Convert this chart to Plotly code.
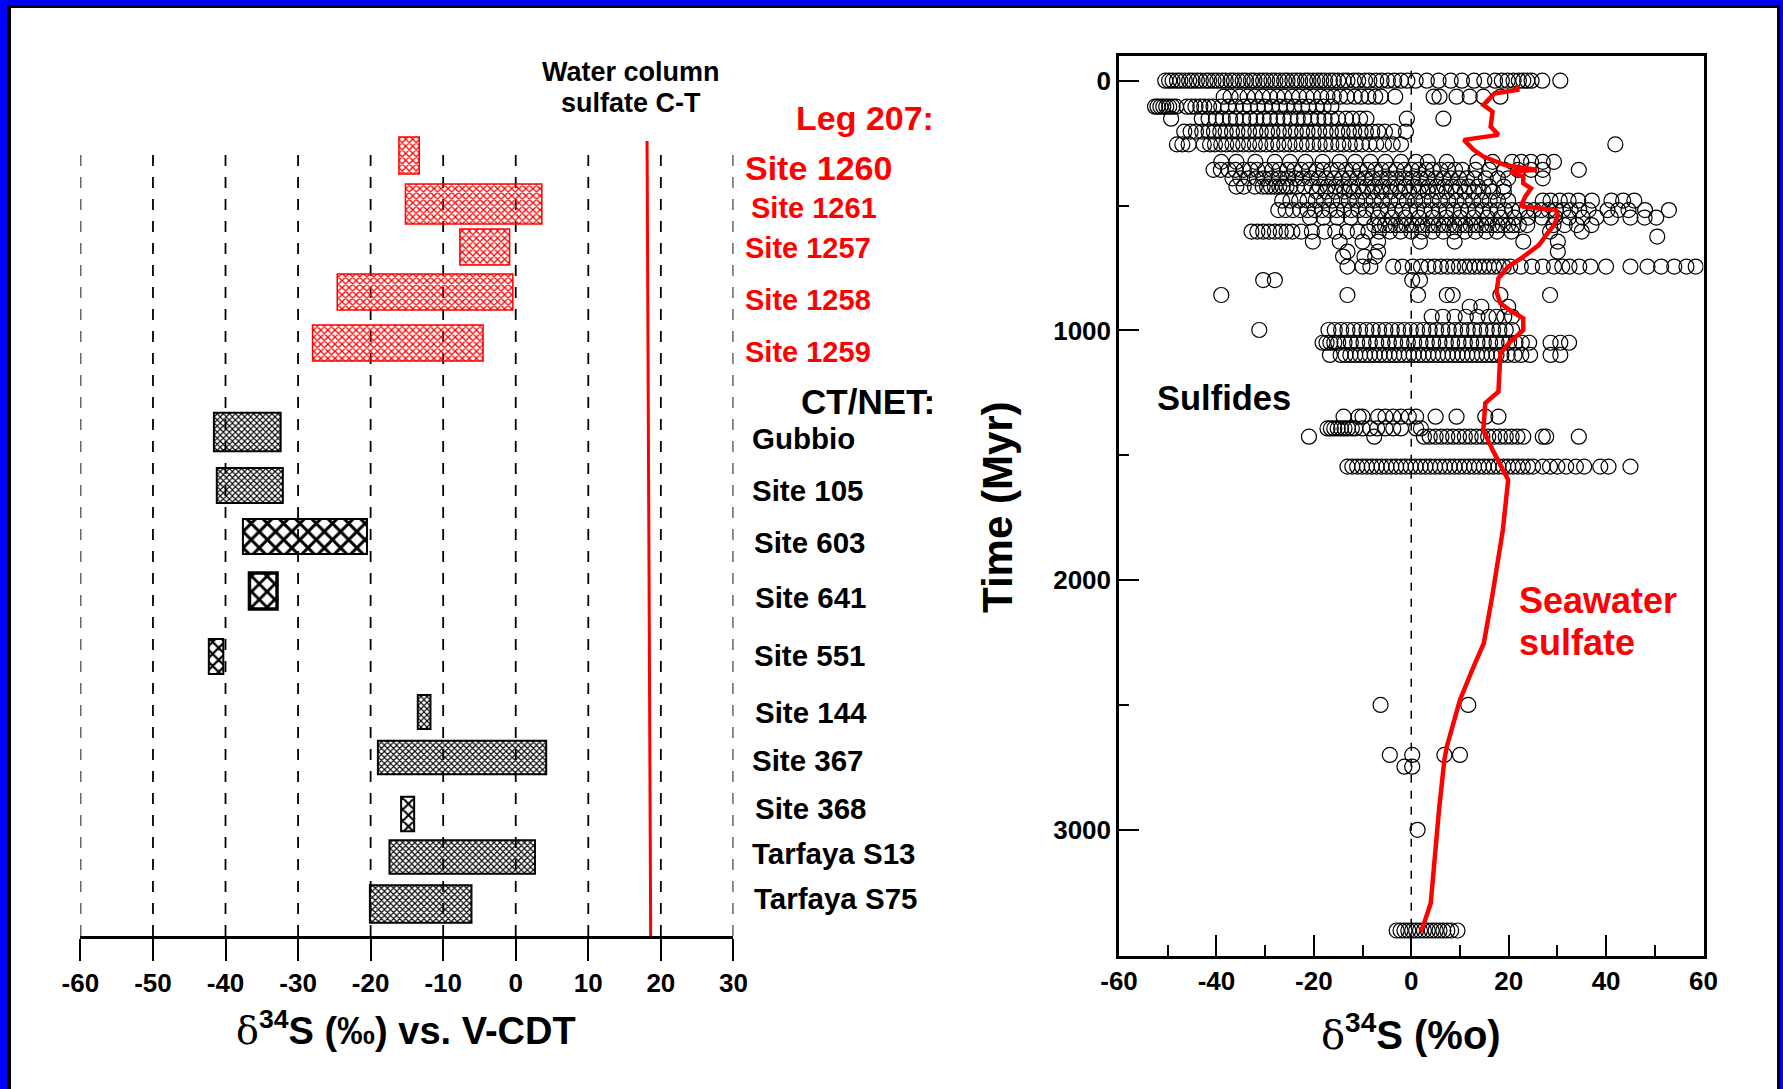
import plotly.graph_objects as go

W, H = 1783, 1089
FONT = "Liberation Sans, Arial, sans-serif"

# ------------------------------------------------------------------ LEFT PANEL DATA
sites = ["Site 1260", "Site 1261", "Site 1257", "Site 1258", "Site 1259",
         "Gubbio", "Site 105", "Site 603", "Site 641", "Site 551",
         "Site 144", "Site 367", "Site 368", "Tarfaya S13", "Tarfaya S75"]
site_group = ["Leg 207"] * 5 + ["CT/NET"] * 10
d34s_min = [-16.1, -15.2, -7.7, -24.6, -28.0,
            -41.6, -41.2, -37.6, -36.7, -42.3,
            -13.5, -19.0, -15.8, -17.4, -20.1]
d34s_max = [-13.3, 3.6, -0.85, -0.4, -4.5,
            -32.4, -32.1, -20.5, -32.9, -40.3,
            -11.75, 4.2, -14.0, 2.65, -6.1]
# vertical slot of each site in the left panel (row units, top = 0)
site_row = [0.00, 0.97, 1.83, 2.73, 3.75,
            5.53, 6.60, 7.62, 8.71, 10.02,
            11.13, 12.04, 13.17, 14.03, 14.97]
water_column_sulfate = [18.1, 18.6]   # slightly slanted line in the source
left_ticks = [-60, -50, -40, -30, -20, -10, 0, 10, 20, 30]
left_tick_labels = ["-60", "-50", "-40", "-30", "-20", "-10", "0", "10", "20", "30"]

# ------------------------------------------------------------------ RIGHT PANEL DATA
seawater_age = [17, 37, 51, 97, 124, 184, 217, 237, 277, 304, 337, 357, 364, 384, 411, 431,
                464, 498, 504, 518, 538, 578, 618, 658, 705, 745, 791, 845, 891, 925, 951,
                998, 1045, 1091, 1245, 1291, 1398, 1478, 1598, 1799, 2066, 2252, 2346, 2479,
                2666, 2719, 2920, 3293, 3387, 3407]
seawater_d34s = [21.8, 21.8, 17.1, 14.8, 16.7, 16.3, 17.9, 10.8, 12.8, 14.8, 19.1, 25.8, 20.3,
                 23.0, 23.0, 24.6, 23.4, 22.6, 23.0, 29.7, 30.1, 29.3, 27.7, 26.2, 23.0, 19.9,
                 17.9, 17.5, 18.3, 20.7, 23.0, 23.0, 20.3, 18.3, 17.9, 15.2, 14.8, 16.7, 19.9,
                 18.8, 16.6, 14.9, 12.8, 10.0, 7.3, 6.8, 5.7, 4.0, 2.4, 1.9]

sulf_000 = [-50.5, -49.7, -49.0, -48.1, -47.4, -46.5, -45.6, -44.9, -44.0, -43.2, -42.2, -41.5,
            -40.6, -39.8, -38.9, -38.1, -37.1, -36.4, -35.5, -34.6, -33.9, -32.9, -32.2, -31.2,
            -30.4, -29.6, -28.7, -27.9, -27.0, -26.1, -25.4, -24.4, -23.6, -22.8, -21.8, -21.1,
            -20.2, -19.3, -18.5, -17.7, -16.7, -15.9, -15.0, -13.9, -13.1, -11.8, -10.9, -9.5,
            -8.6, -7.2, -6.1, -4.8, -3.5, -2.1, -0.8, 0.9, 3.2, 5.6, 8.1, 10.4, 12.9, 15.0,
            17.2, 18.6, 19.8, 21.0, 22.1, 23.0, 23.8, 24.7, 26.9, 30.6]
sulf_064 = [-38.5, -37.1, -35.3, -33.6, -32.1, -30.5, -29.0, -27.5, -26.1, -24.4, -23.0, -21.5,
            -20.1, -18.5, -17.2, -15.9, -14.6, -13.2, -11.6, -10.3, -8.8, -7.4, -6.2, -3.3,
            4.6, 5.8, 9.3, 12.0, 14.8, 18.3]
sulf_104 = [-52.6, -52.1, -51.5, -50.9, -50.3, -49.7, -49.0, -48.3, -46.1, -45.2, -44.3, -43.3,
            -42.5, -41.5, -40.6, -39.0, -37.6, -36.0, -34.4, -33.1, -31.5, -30.1, -28.6, -27.0,
            -25.6, -24.0, -22.4, -21.1, -19.4, -18.0, -16.4]
sulf_152 = [-49.3, -43.0, -41.6, -40.1, -38.7, -37.2, -36.0, -34.5, -33.1, -31.8, -30.3, -29.0,
            -27.5, -26.2, -24.8, -23.3, -22.0, -20.6, -19.1, -17.8, -16.4, -15.0, -13.4, -12.1,
            -10.5, -9.2, -0.9, 6.6]
sulf_204 = [-46.6, -45.3, -44.2, -42.9, -41.6, -40.5, -39.2, -38.1, -36.8, -35.7, -34.4, -33.3,
            -32.0, -30.9, -29.6, -28.5, -27.2, -26.1, -24.8, -23.7, -22.4, -21.3, -20.0, -18.9,
            -17.6, -16.5, -15.2, -14.1, -12.8, -11.7, -10.4, -9.3, -8.0, -6.8, -5.4, -3.6, -1.1]
sulf_255 = [-48.1, -47.0, -45.7, -42.6, -41.3, -40.3, -39.0, -38.0, -36.7, -35.6, -34.5, -33.3,
            -32.1, -31.0, -29.8, -28.5, -27.3, -26.1, -25.0, -23.8, -22.5, -21.4, -20.1, -18.8,
            -17.6, -16.4, -15.0, -13.9, -12.6, -11.4, -10.1, -8.6, -7.2, -5.6, -3.8, -2.1, 41.9]
sulf_325 = [-39.0, -35.9, -32.0, -28.0, -24.9, -21.7, -18.2, -14.7, -11.5, -8.4, -5.3, -2.1,
            1.0, 3.4, 7.3, 13.6, 16.7, 20.7, 22.6, 24.6, 27.0, 29.3]
sulf_357 = [-40.6, -39.1, -37.5, -36.1, -34.4, -33.0, -31.6, -29.9, -28.5, -27.1, -25.4, -24.0,
            -22.6, -21.0, -19.4, -18.1, -16.5, -15.1, -13.4, -12.0, -10.6, -9.0, -7.4, -6.1,
            -4.5, -3.0, -1.4, 0.1, 1.5, 3.1, 4.4, 6.0, 7.6, 9.0, 10.5, 13.2, 16.0, 19.1, 21.9,
            24.6, 27.0, 34.4]
sulf_391 = [-36.7, -35.1, -33.4, -31.7, -30.2, -28.6, -27.1, -25.4, -23.8, -22.3, -20.6, -19.0,
            -17.5, -15.8, -14.2, -12.7, -11.0, -9.4, -7.9, -6.2, -4.6, -3.1, -1.4, 0.2, 1.8,
            3.3, 5.0, 6.6, 8.1, 9.8, 11.4, 13.0, 15.3, 17.8, 19.9, 27.0]
sulf_424 = [-35.9, -34.4, -32.1, -30.5, -29.6, -28.8, -28.0, -27.1, -26.4, -25.6, -24.8, -23.5,
            -22.0, -20.4, -18.8, -17.2, -15.6, -14.0, -12.4, -10.8, -9.2, -7.6, -6.0, -4.4,
            -2.8, -1.2, 0.4, 2.0, 3.6, 5.2, 6.8, 8.4, 10.0, 11.7, 13.7, 16.0, 19.0]
sulf_444 = [-19.4, -17.5, -15.6, -13.7, -11.8, -9.9, -8.0, -6.1, -4.2, -2.3, -0.4, 1.5, 3.4,
            5.3, 7.2, 9.1, 11.0, 12.9, 14.8, 16.8, 19.0]
sulf_480 = [-26.5, -24.8, -23.0, -21.3, -19.6, -17.9, -16.2, -14.5, -12.8, -11.1, -9.4, -7.7,
            -6.0, -4.3, -2.6, -0.9, 0.8, 2.5, 4.2, 5.9, 7.6, 9.3, 11.0, 12.7, 14.4, 16.1, 17.8,
            19.9, 27.0, 28.6, 30.5, 32.3, 34.3, 37.1, 41.1, 43.5, 45.8]
sulf_518 = [-27.3, -25.8, -24.3, -22.8, -21.3, -19.8, -18.3, -16.8, -15.3, -13.8, -12.3, -10.8,
            -9.3, -7.8, -6.3, -4.8, -3.3, -1.8, -0.3, 1.2, 2.7, 4.2, 5.7, 7.2, 8.7, 10.2, 11.7,
            13.2, 14.7, 16.2, 17.7, 19.2, 20.7, 22.2, 23.7, 25.2, 26.7, 28.2, 29.7, 31.2, 32.7,
            34.5, 36.4, 40.3, 42.5, 44.6, 48.0, 52.9]
sulf_548 = [-20.8, -18.0, -15.2, -12.4, -9.6, -6.8, -4.0, -1.2, 1.6, 4.4, 7.2, 10.0, 12.8, 15.6,
            18.4, 21.2, 24.0, 26.8, 29.6, 32.4, 35.2, 38.0, 41.0, 45.0, 47.9, 50.3]
sulf_578 = [-7.6, -6.5, -5.4, -4.3, -3.2, -2.1, -1.0, 0.1, 1.2, 2.3, 3.4, 4.5, 5.6, 6.7, 7.8,
            8.9, 10.0, 11.1, 12.2, 13.3, 14.4, 15.5, 16.6, 17.7, 18.8, 19.9, 21.0, 22.1, 23.8,
            29.2, 31.5, 34.0, 37.0]
sulf_604 = [-32.8, -31.6, -30.4, -29.2, -28.0, -26.8, -25.6, -24.4, -22.6, -20.4, -17.8, -15.6,
            -13.2, -11.0, -8.8, -6.6, -4.4, -2.2, 0.0, 2.2, 4.4, 6.6, 8.8, 11.0, 13.2, 15.4,
            17.6, 20.6, 28.5, 35.0]
sulf_624 = [50.5]
sulf_644 = [-20.2, -14.7, -10.0, -6.8, 1.8, 8.9, 23.0, 30.1]
sulf_684 = [-13.1, -6.8, 30.1]
sulf_704 = [-14.0, -9.6, -7.4]
sulf_744 = [-13.1, -10.0, -8.4, -3.7, -1.8, 0.3, 2.0, 3.5, 4.8, 6.1, 7.4, 8.6, 9.8, 11.0, 12.0,
            13.0, 14.0, 15.0, 16.0, 17.0, 18.0, 19.0, 20.3, 22.5, 24.8, 27.0, 29.3, 31.0, 32.5,
            34.5, 36.8, 40.0, 45.0, 48.5, 51.3, 54.0, 56.5, 58.4]
sulf_798 = [-30.4, -28.0, 0.2, 1.8]
sulf_858 = [-39.0, -13.1, 1.4, 7.3, 8.5, 18.3, 28.5]
sulf_905 = [12.0, 14.4, 19.9]
sulf_945 = [4.2, 6.5, 8.9, 11.2, 13.6, 15.9, 17.5, 19.1, 20.7]
sulf_998 = [-31.2, -17.0, -15.7, -14.4, -13.1, -11.8, -10.5, -9.2, -7.9, -6.6, -5.3, -4.0, -2.7,
            -1.4, -0.1, 1.2, 2.5, 3.8, 5.1, 6.4, 7.7, 9.0, 10.3, 11.6, 12.9, 14.2, 15.5, 16.8,
            18.1, 19.4, 20.7]
sulf_1049 = [-18.2, -17.4, -16.6, -15.8, -15.0, -13.7, -12.4, -11.1, -9.8, -8.5, -7.2, -5.9,
             -4.6, -3.3, -2.0, -0.7, 0.6, 1.9, 3.2, 4.5, 5.8, 7.1, 8.4, 9.7, 11.0, 12.3, 13.6,
             14.9, 16.2, 17.5, 18.8, 20.1, 21.4, 22.7, 24.2, 28.6, 30.6, 32.4]
sulf_1098 = [-16.7, -14.5, -13.5, -12.5, -11.5, -10.5, -9.5, -8.5, -7.5, -6.5, -5.5, -4.5, -3.5,
             -2.5, -1.5, -0.5, 0.5, 1.5, 2.5, 3.5, 4.5, 5.5, 6.5, 7.5, 8.5, 9.5, 10.5, 11.5,
             12.5, 13.5, 14.5, 15.5, 16.5, 17.5, 18.5, 19.8, 21.2, 22.6, 24.4, 28.6, 30.6]
sulf_1345 = [-13.9, -10.8, -10.0, -6.8, -5.3, -3.7, -2.1, -0.5, 1.0, 5.0, 9.3, 15.2, 17.9]
sulf_1392 = [-17.2, -16.5, -15.8, -15.1, -14.4, -13.7, -13.0, -12.2, -11.5, -10.0, -8.4, -7.0,
             -5.3, -3.7, -2.1, 1.0, 2.0]
sulf_1425 = [-21.0, -7.6, 2.6, 3.8, 5.0, 6.2, 7.4, 8.6, 9.8, 11.0, 12.2, 13.4, 14.6, 15.8, 17.0,
             18.2, 19.4, 20.6, 21.8, 23.0, 27.0, 27.7, 34.4]
sulf_1545 = [-13.1, -12.1, -11.1, -10.1, -9.1, -8.1, -7.1, -6.1, -5.1, -4.1, -3.1, -2.1, -1.1,
             -0.1, 0.9, 1.9, 2.9, 3.9, 4.9, 5.9, 6.9, 7.9, 8.9, 9.9, 10.9, 11.9, 12.9, 13.9,
             14.9, 15.9, 16.9, 17.9, 18.9, 19.9, 20.9, 21.9, 22.9, 24.0, 25.0, 27.0, 28.5, 30.0,
             31.8, 33.8, 35.5, 38.8, 40.5, 45.0]
sulf_2499 = [-6.3, 11.7]
sulf_2699 = [-4.4, 0.2, 6.8, 10.0]
sulf_2746 = [-1.4, 0.2]
sulf_2999 = [1.3]
sulf_3402 = [-3.0, -2.2, -1.4, -0.6, 0.2, 1.0, 1.8, 2.6, 3.4, 4.2, 5.0, 5.8, 6.6, 7.4, 8.2, 9.5]

sulfide_row_age = [0, 64, 104, 152, 204, 255, 325, 357, 391, 424, 444, 480, 518, 548, 578, 604,
                   624, 644, 684, 704, 744, 798, 858, 905, 945, 998, 1049, 1098, 1345, 1392,
                   1425, 1545, 2499, 2699, 2746, 2999, 3402]
sulfide_row_d34s = [sulf_000, sulf_064, sulf_104, sulf_152, sulf_204, sulf_255, sulf_325,
                    sulf_357, sulf_391, sulf_424, sulf_444, sulf_480, sulf_518, sulf_548,
                    sulf_578, sulf_604, sulf_624, sulf_644, sulf_684, sulf_704, sulf_744,
                    sulf_798, sulf_858, sulf_905, sulf_945, sulf_998, sulf_1049, sulf_1098,
                    sulf_1345, sulf_1392, sulf_1425, sulf_1545, sulf_2499, sulf_2699,
                    sulf_2746, sulf_2999, sulf_3402]
right_x_ticks = [-60, -40, -20, 0, 20, 40, 60]
right_x_labels = ["-60", "-40", "-20", "0", "20", "40", "60"]
right_y_ticks = [0, 1000, 2000, 3000]
right_y_labels = ["0", "1000", "2000", "3000"]


# ------------------------------------------------------------------ helpers
def px(x):
    return x / W


def py(y):
    return 1 - y / H


fig = go.Figure()

# ------------------------------------------------------------------ left panel bars
red_idx = [i for i, g in enumerate(site_group) if g == "Leg 207"]
blk_idx = [i for i, g in enumerate(site_group) if g == "CT/NET"]

bar_thick_red = [0.74, 0.80, 0.72, 0.72, 0.72]
bar_thick_blk = [0.77, 0.70, 0.70, 0.72, 0.70, 0.68, 0.67, 0.69, 0.67, 0.75]
pat_size_blk = [4.3, 4.3, 11.5, 11, 8.5, 4.3, 4.3, 8, 4.3, 4.3]
line_w_blk = [2, 2, 2, 3.5, 2, 2, 2, 2, 2, 2]

fig.add_trace(go.Bar(
    orientation="h",
    y=[site_row[i] for i in red_idx],
    base=[d34s_min[i] for i in red_idx],
    x=[d34s_max[i] - d34s_min[i] for i in red_idx],
    width=bar_thick_red,
    marker=dict(color="red",
                line=dict(color="red", width=1.5),
                pattern=dict(shape="x", fillmode="replace", fgcolor="red",
                             bgcolor="rgba(255,255,255,0)", size=5, solidity=0.45)),
    xaxis="x", yaxis="y", showlegend=False, hoverinfo="skip"))

fig.add_trace(go.Bar(
    orientation="h",
    y=[site_row[i] for i in blk_idx],
    base=[d34s_min[i] for i in blk_idx],
    x=[d34s_max[i] - d34s_min[i] for i in blk_idx],
    width=bar_thick_blk,
    marker=dict(color="black",
                line=dict(color="black", width=line_w_blk),
                pattern=dict(shape="x", fillmode="replace", fgcolor="black",
                             bgcolor="rgba(255,255,255,0)", size=pat_size_blk, solidity=0.45)),
    xaxis="x", yaxis="y", showlegend=False, hoverinfo="skip"))

# water column sulfate line
fig.add_trace(go.Scatter(
    x=water_column_sulfate, y=[-0.29, 15.61], mode="lines",
    line=dict(color="red", width=3), xaxis="x", yaxis="y",
    showlegend=False, hoverinfo="skip"))

# ------------------------------------------------------------------ right panel
all_age, all_d = [], []
for age, vals in zip(sulfide_row_age, sulfide_row_d34s):
    all_age += [age] * len(vals)
    all_d += vals

fig.add_trace(go.Scatter(
    x=all_d, y=all_age, mode="markers",
    marker=dict(symbol="circle-open", size=15, color="black", line=dict(width=1.2)),
    xaxis="x2", yaxis="y2", showlegend=False, hoverinfo="skip"))

fig.add_trace(go.Scatter(
    x=seawater_d34s, y=seawater_age, mode="lines",
    line=dict(color="red", width=4.5),
    xaxis="x2", yaxis="y2", showlegend=False, hoverinfo="skip"))

# ------------------------------------------------------------------ shapes
shapes = []
for t in left_ticks:
    shapes.append(dict(type="line", xref="x", yref="paper", x0=t, x1=t,
                       y0=py(936), y1=py(150), layer="below",
                       line=dict(color="black", width=1.8, dash="11px,11px")))
shapes.append(dict(type="line", xref="x2", yref="y2", x0=0, x1=0, y0=-40, y1=3504,
                   layer="below", line=dict(color="black", width=1.5, dash="8px,8px")))
# page frame: blue outer band + black inner line
shapes += [
    dict(type="rect", xref="paper", yref="paper", x0=0, x1=px(7), y0=0, y1=1,
         fillcolor="#0000ff", line=dict(width=0)),
    dict(type="rect", xref="paper", yref="paper", x0=0, x1=1, y0=py(5), y1=1,
         fillcolor="#0000ff", line=dict(width=0)),
    dict(type="rect", xref="paper", yref="paper", x0=px(1780), x1=1, y0=0, y1=1,
         fillcolor="#0000ff", line=dict(width=0)),
    dict(type="rect", xref="paper", yref="paper", x0=px(7), x1=px(11), y0=0, y1=py(5),
         fillcolor="black", line=dict(width=0)),
    dict(type="rect", xref="paper", yref="paper", x0=px(7), x1=px(1780), y0=py(8), y1=py(5),
         fillcolor="black", line=dict(width=0)),
    dict(type="rect", xref="paper", yref="paper", x0=px(1777), x1=px(1780), y0=0, y1=py(5),
         fillcolor="black", line=dict(width=0)),
]

# ------------------------------------------------------------------ annotations
ann = []


def text(s, x, y, size, color="black", xanchor="left", angle=0):
    ann.append(dict(text=s, x=px(x), y=py(y), xref="paper", yref="paper",
                    xanchor=xanchor, yanchor="middle", showarrow=False, textangle=angle,
                    font=dict(family=FONT, size=size, color=color, weight="bold")))


text("Water column", 631, 72, 27, xanchor="center")
text("sulfate C-T", 631, 103, 27, xanchor="center")
text("Leg 207:", 794, 118, 34, color="red")
red_lab_x = [743, 749, 743, 743, 743]
red_lab_y = [168, 208, 248, 300, 352]
red_lab_size = [34, 29, 29, 29, 29]
for k, i in enumerate(red_idx):
    text(sites[i], red_lab_x[k], red_lab_y[k], red_lab_size[k], color="red")
text("CT/NET:", 799, 402, 35)
blk_lab_x = [750, 750, 752, 753, 752, 753, 750, 753, 750, 752]
blk_lab_y = [438, 490, 542, 597, 655, 712, 760, 808, 853, 898]
for k, i in enumerate(blk_idx):
    text(sites[i], blk_lab_x[k], blk_lab_y[k], 29.5)

DELTA = '<span style="font-family:DejaVu Serif;font-weight:normal">δ</span>'
text(DELTA + "<sup>34</sup>S (‰) vs. V-CDT", 406, 1028, 38, xanchor="center")
text(DELTA + "<sup>34</sup>S (%o)", 1411, 1032, 40, xanchor="center")
text("Time (Myr)", 998, 507, 42, xanchor="center", angle=-90)
text("Sulfides", 1155, 398, 34.5)
text("Seawater", 1517, 600, 36, color="red")
text("sulfate", 1517, 642, 36, color="red")

# ------------------------------------------------------------------ layout
tickfont = dict(family=FONT, size=26, color="black", weight="bold")
fig.update_layout(
    width=W, height=H, autosize=False,
    margin=dict(l=0, r=0, t=0, b=0, pad=0, autoexpand=False),
    paper_bgcolor="white", plot_bgcolor="rgba(0,0,0,0)",
    font=dict(family=FONT, color="black"),
    barmode="overlay", showlegend=False,
    shapes=shapes, annotations=ann,
    xaxis=dict(domain=[px(80.4), px(733.4)], range=[-60, 30], anchor="y",
               tickvals=left_ticks, ticktext=left_tick_labels, tickfont=tickfont,
               showline=True, linecolor="black", linewidth=3, mirror=False,
               ticks="outside", ticklen=22, tickwidth=2, tickcolor="black",
               showgrid=False, zeroline=False, automargin=False),
    yaxis=dict(domain=[py(936), py(125)], range=[15.61, -0.61], anchor="x",
               visible=False, showgrid=False, zeroline=False, automargin=False),
    xaxis2=dict(domain=[px(1119), px(1703.5)], range=[-60, 60], anchor="y2",
                tickvals=right_x_ticks, ticktext=right_x_labels, tickfont=tickfont,
                showline=True, linecolor="black", linewidth=2.5, mirror=True,
                ticks="inside", ticklen=21, tickwidth=2, tickcolor="black",
                minor=dict(tickmode="linear", tick0=0, dtick=10, ticks="inside",
                           ticklen=11, tickwidth=2, tickcolor="black", showgrid=False),
                showgrid=False, zeroline=False, automargin=False),
    yaxis2=dict(domain=[py(956), py(55.7)], range=[3504, -100], anchor="x2",
                tickvals=right_y_ticks, ticktext=right_y_labels, tickfont=tickfont,
                showline=True, linecolor="black", linewidth=2.5, mirror=True,
                ticks="inside", ticklen=20, tickwidth=2, tickcolor="black",
                minor=dict(tickmode="linear", tick0=0, dtick=500, ticks="inside",
                           ticklen=10, tickwidth=2, tickcolor="black", showgrid=False),
                showgrid=False, zeroline=False, automargin=False),
)

fig.write_html("out.html")
